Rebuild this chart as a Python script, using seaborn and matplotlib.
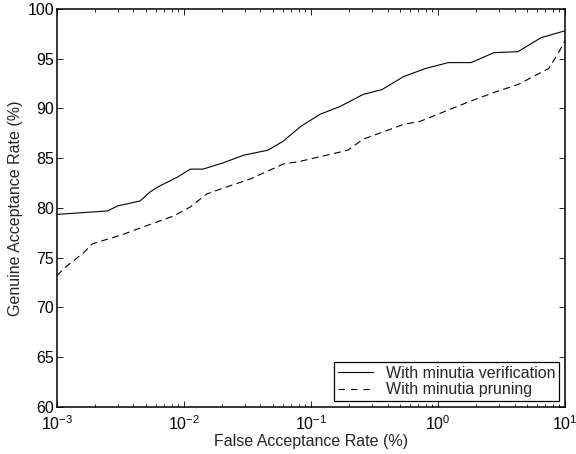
import numpy as np
import pandas as pd
import matplotlib
matplotlib.use("Agg")
import matplotlib.pyplot as plt
import seaborn as sns

# Data (x = False Acceptance Rate %, y = Genuine Acceptance Rate %)
far_verif = [0.001, 0.0025, 0.0030, 0.0045, 0.0054, 0.0062, 0.0089, 0.0112, 0.0141,
             0.0200, 0.0295, 0.0457, 0.0603, 0.0832, 0.1175, 0.1698, 0.2570, 0.3631,
             0.5370, 0.7943, 1.2023, 1.8197, 2.7542, 4.2658, 6.4565, 10.0]
gar_verif = [79.35, 79.7, 80.2, 80.7, 81.6, 82.1, 83.1, 83.9, 83.9,
             84.5, 85.3, 85.8, 86.7, 88.2, 89.4, 90.2, 91.4, 91.9,
             93.2, 94.0, 94.6, 94.6, 95.6, 95.7, 97.1, 97.8]

far_prune = [0.001, 0.00115, 0.00162, 0.0019, 0.00324, 0.00479, 0.00832, 0.0112, 0.0151,
             0.0204, 0.0331, 0.0603, 0.0832, 0.195, 0.257, 0.537, 0.724, 1.698,
             2.754, 4.266, 7.413, 8.71, 10.0]
gar_prune = [73.2, 74.0, 75.5, 76.4, 77.3, 78.1, 79.2, 80.1, 81.4,
             82.0, 82.9, 84.4, 84.7, 85.8, 86.9, 88.4, 88.7, 90.6,
             91.6, 92.4, 94.0, 95.4, 96.8]

labels = ["With minutia verification", "With minutia pruning"]
x_label = "False Acceptance Rate (%)"
y_label = "Genuine Acceptance Rate (%)"

sns.set_style("ticks")
plt.rcParams["font.family"] = ["Liberation Sans", "DejaVu Sans"]
plt.rcParams["mathtext.fontset"] = "custom"
plt.rcParams["mathtext.rm"] = "Liberation Sans"
plt.rcParams["mathtext.it"] = "Liberation Sans:italic"
plt.rcParams["mathtext.bf"] = "Liberation Sans:bold"
plt.rcParams["lines.scale_dashes"] = False
FS = 11.5
plt.rcParams["font.size"] = FS

fig = plt.figure(figsize=(5.76, 4.54), dpi=100)
ax = fig.add_axes([0.099, 0.1035, 0.882, 0.877])

df1 = pd.DataFrame({"far": far_verif, "gar": gar_verif})
df2 = pd.DataFrame({"far": far_prune, "gar": gar_prune})
sns.lineplot(data=df1, x="far", y="gar", ax=ax, color="black", lw=0.8,
             estimator=None, sort=False, label=labels[0])
sns.lineplot(data=df2, x="far", y="gar", ax=ax, color="black", lw=0.8,
             estimator=None, sort=False, label=labels[1])
ax.lines[1].set_dashes((5, 3.2))

ax.set_xscale("log")
ax.set_xlim(1e-3, 1e1)
ax.set_ylim(60, 100)
ax.set_yticks(np.arange(60, 101, 5))
ax.set_xlabel(x_label, fontsize=FS, labelpad=1)
ax.set_ylabel(y_label, fontsize=FS, labelpad=3)

for s in ax.spines.values():
    s.set_visible(True)
    s.set_linewidth(1.1)
    s.set_color("black")
ax.tick_params(which="both", direction="in", top=True, right=True,
               labelsize=FS, colors="black", width=0.6)
ax.tick_params(axis="x", which="both", pad=5)
ax.tick_params(axis="y", which="both", pad=2)
ax.tick_params(which="major", length=4)
ax.tick_params(which="minor", length=2.5)

leg = ax.legend(loc="lower right", frameon=True, fancybox=False, fontsize=FS,
                handlelength=2.2, borderpad=0.25, labelspacing=0.1,
                borderaxespad=0.35, handletextpad=0.8)
leg.get_frame().set_edgecolor("black")
leg.get_frame().set_linewidth(0.9)
leg.get_frame().set_alpha(1)
leg.get_lines()[1].set_dashes((4.5, 4.5))

fig.savefig("out.png", dpi=100)
